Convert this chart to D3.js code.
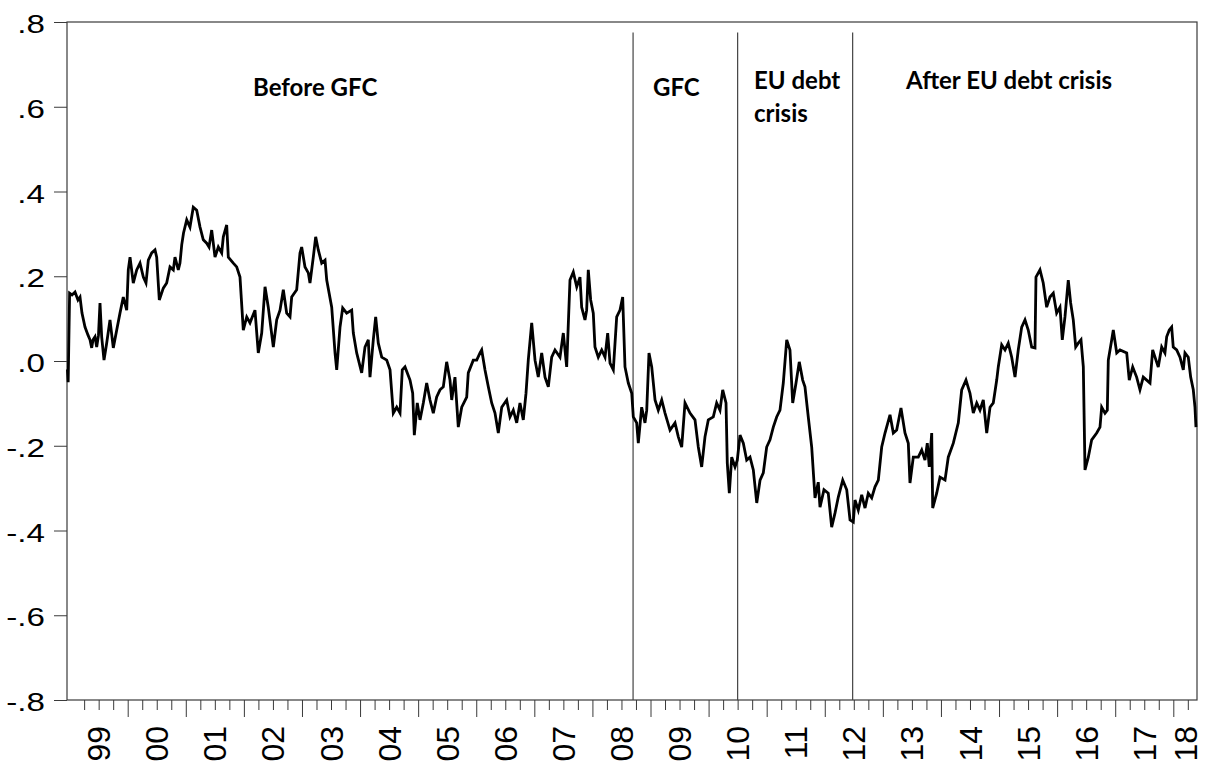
<!DOCTYPE html>
<html>
<head>
<meta charset="utf-8">
<script src="https://cdn.jsdelivr.net/npm/d3@7"></script>
<style>
  body { margin: 0; background: #fff; }
  svg { display: block; }
</style>
</head>
<body>
<div id="chart-container"></div>
<script>
// series, decimal year / value
const dates = [
  1998.962, 1998.975, 1999.000, 1999.041, 1999.093, 1999.144, 1999.179, 1999.213, 1999.265, 1999.317,
  1999.351, 1999.380, 1999.403, 1999.437, 1999.466, 1999.497, 1999.523, 1999.552, 1999.592, 1999.638,
  1999.695, 1999.752, 1999.811, 1999.867, 1999.924, 1999.983, 2000.010, 2000.040, 2000.096, 2000.155,
  2000.212, 2000.269, 2000.315, 2000.355, 2000.413, 2000.470, 2000.499, 2000.544, 2000.613, 2000.671,
  2000.728, 2000.785, 2000.814, 2000.871, 2000.900, 2000.930, 2000.961, 2001.016, 2001.072, 2001.129,
  2001.188, 2001.245, 2001.301, 2001.360, 2001.400, 2001.446, 2001.503, 2001.560, 2001.618, 2001.646,
  2001.704, 2001.732, 2001.818, 2001.876, 2001.933, 2001.990, 2002.049, 2002.105, 2002.191, 2002.248,
  2002.307, 2002.364, 2002.420, 2002.507, 2002.565, 2002.622, 2002.679, 2002.737, 2002.794, 2002.823,
  2002.909, 2002.966, 2002.995, 2003.052, 2003.109, 2003.138, 2003.195, 2003.236, 2003.281, 2003.340,
  2003.397, 2003.426, 2003.512, 2003.569, 2003.598, 2003.655, 2003.701, 2003.770, 2003.856, 2003.884,
  2003.942, 2004.028, 2004.085, 2004.142, 2004.171, 2004.228, 2004.269, 2004.314, 2004.373, 2004.459,
  2004.516, 2004.572, 2004.631, 2004.688, 2004.727, 2004.774, 2004.860, 2004.906, 2004.934, 2004.985,
  2005.032, 2005.089, 2005.147, 2005.204, 2005.261, 2005.319, 2005.376, 2005.433, 2005.491, 2005.548,
  2005.578, 2005.634, 2005.691, 2005.750, 2005.836, 2005.863, 2005.949, 2006.008, 2006.065, 2006.094,
  2006.151, 2006.208, 2006.266, 2006.323, 2006.380, 2006.439, 2006.524, 2006.581, 2006.638, 2006.697,
  2006.753, 2006.810, 2006.857, 2006.896, 2006.955, 2007.012, 2007.068, 2007.127, 2007.184, 2007.241,
  2007.299, 2007.356, 2007.442, 2007.499, 2007.557, 2007.614, 2007.671, 2007.730, 2007.786, 2007.815,
  2007.872, 2007.901, 2007.929, 2007.970, 2008.015, 2008.044, 2008.101, 2008.160, 2008.217, 2008.263,
  2008.303, 2008.360, 2008.418, 2008.475, 2008.521, 2008.561, 2008.618, 2008.677, 2008.704, 2008.762,
  2008.790, 2008.848, 2008.905, 2008.935, 2008.974, 2009.021, 2009.078, 2009.134, 2009.193, 2009.250,
  2009.336, 2009.422, 2009.479, 2009.537, 2009.594, 2009.680, 2009.766, 2009.823, 2009.881, 2009.938,
  2009.995, 2010.081, 2010.139, 2010.196, 2010.243, 2010.300, 2010.322, 2010.357, 2010.398, 2010.455,
  2010.494, 2010.541, 2010.598, 2010.656, 2010.713, 2010.770, 2010.829, 2010.886, 2010.942, 2011.000,
  2011.057, 2011.114, 2011.172, 2011.229, 2011.286, 2011.345, 2011.401, 2011.448, 2011.505, 2011.561,
  2011.620, 2011.659, 2011.716, 2011.775, 2011.832, 2011.888, 2011.918, 2011.986, 2012.060, 2012.119,
  2012.176, 2012.233, 2012.309, 2012.378, 2012.435, 2012.491, 2012.520, 2012.577, 2012.636, 2012.693,
  2012.749, 2012.808, 2012.865, 2012.922, 2012.980, 2013.037, 2013.123, 2013.180, 2013.238, 2013.312,
  2013.381, 2013.438, 2013.467, 2013.524, 2013.610, 2013.669, 2013.725, 2013.765, 2013.799, 2013.841,
  2013.858, 2013.927, 2013.984, 2014.070, 2014.126, 2014.213, 2014.299, 2014.357, 2014.431, 2014.500,
  2014.557, 2014.616, 2014.672, 2014.729, 2014.788, 2014.845, 2014.901, 2014.960, 2014.987, 2015.046,
  2015.103, 2015.159, 2015.218, 2015.275, 2015.331, 2015.390, 2015.447, 2015.503, 2015.562, 2015.619,
  2015.636, 2015.705, 2015.761, 2015.820, 2015.877, 2015.934, 2015.992, 2016.049, 2016.089, 2016.135,
  2016.192, 2016.233, 2016.278, 2016.320, 2016.364, 2016.411, 2016.451, 2016.480, 2016.537, 2016.595,
  2016.681, 2016.738, 2016.767, 2016.824, 2016.864, 2016.881, 2016.940, 2016.967, 2017.026, 2017.082,
  2017.198, 2017.242, 2017.301, 2017.369, 2017.426, 2017.483, 2017.542, 2017.599, 2017.645, 2017.702,
  2017.741, 2017.800, 2017.856, 2017.886, 2017.931, 2017.972, 2017.999, 2018.058, 2018.115, 2018.172,
  2018.201, 2018.258, 2018.299, 2018.344, 2018.373, 2018.390
];

const values = [
  -0.020, -0.050, 0.160, 0.156, 0.163, 0.144, 0.151, 0.113, 0.080, 0.061,
  0.050, 0.031, 0.050, 0.057, 0.033, 0.061, 0.137, 0.057, 0.002, 0.042,
  0.097, 0.031, 0.073, 0.113, 0.151, 0.120, 0.215, 0.245, 0.184, 0.215,
  0.231, 0.198, 0.184, 0.238, 0.255, 0.262, 0.245, 0.144, 0.172, 0.184,
  0.222, 0.215, 0.245, 0.215, 0.231, 0.274, 0.302, 0.333, 0.316, 0.363,
  0.356, 0.316, 0.286, 0.278, 0.269, 0.309, 0.245, 0.269, 0.255, 0.293,
  0.321, 0.245, 0.231, 0.222, 0.198, 0.073, 0.104, 0.090, 0.120, 0.019,
  0.066, 0.175, 0.127, 0.033, 0.097, 0.120, 0.168, 0.113, 0.104, 0.151,
  0.168, 0.255, 0.269, 0.222, 0.208, 0.184, 0.245, 0.293, 0.262, 0.231,
  0.238, 0.191, 0.127, 0.019, -0.021, 0.080, 0.125, 0.113, 0.120, 0.066,
  0.019, -0.028, 0.033, 0.050, -0.038, 0.050, 0.104, 0.042, 0.009, 0.002,
  -0.021, -0.123, -0.109, -0.123, -0.021, -0.014, -0.045, -0.076, -0.175, -0.099,
  -0.139, -0.099, -0.052, -0.092, -0.123, -0.085, -0.068, -0.061, -0.002, -0.045,
  -0.092, -0.038, -0.156, -0.109, -0.085, -0.028, 0.002, 0.002, 0.019, 0.026,
  -0.021, -0.061, -0.099, -0.123, -0.170, -0.109, -0.092, -0.132, -0.116, -0.146,
  -0.099, -0.139, -0.076, 0.002, 0.090, 0.002, -0.038, 0.019, -0.038, -0.061,
  0.009, 0.026, 0.009, 0.066, -0.014, 0.191, 0.210, 0.175, 0.198, 0.127,
  0.097, 0.120, 0.215, 0.144, 0.113, 0.033, 0.009, 0.026, 0.009, 0.066,
  -0.005, -0.021, 0.104, 0.120, 0.151, -0.014, -0.052, -0.076, -0.132, -0.146,
  -0.194, -0.109, -0.146, -0.116, 0.019, -0.014, -0.092, -0.116, -0.092, -0.123,
  -0.163, -0.146, -0.179, -0.203, -0.099, -0.123, -0.139, -0.203, -0.250, -0.179,
  -0.139, -0.132, -0.099, -0.116, -0.068, -0.099, -0.241, -0.312, -0.227, -0.250,
  -0.234, -0.175, -0.194, -0.234, -0.227, -0.257, -0.335, -0.281, -0.264, -0.203,
  -0.186, -0.156, -0.132, -0.116, -0.052, 0.050, 0.026, -0.099, -0.052, -0.002,
  -0.045, -0.061, -0.132, -0.203, -0.323, -0.286, -0.345, -0.304, -0.312, -0.392,
  -0.359, -0.321, -0.281, -0.304, -0.375, -0.380, -0.328, -0.352, -0.316, -0.347,
  -0.312, -0.323, -0.297, -0.281, -0.203, -0.170, -0.127, -0.170, -0.163, -0.111,
  -0.170, -0.194, -0.288, -0.227, -0.227, -0.210, -0.234, -0.194, -0.250, -0.170,
  -0.347, -0.312, -0.274, -0.281, -0.227, -0.194, -0.146, -0.068, -0.045, -0.076,
  -0.123, -0.099, -0.116, -0.092, -0.170, -0.109, -0.099, -0.045, -0.014, 0.038,
  0.026, 0.042, 0.009, -0.038, 0.026, 0.080, 0.097, 0.073, 0.033, 0.031,
  0.198, 0.215, 0.184, 0.127, 0.151, 0.160, 0.113, 0.127, 0.050, 0.104,
  0.191, 0.137, 0.097, 0.033, 0.042, 0.050, -0.014, -0.257, -0.227, -0.186,
  -0.170, -0.156, -0.109, -0.123, -0.116, 0.002, 0.050, 0.073, 0.019, 0.026,
  0.019, -0.045, -0.014, -0.038, -0.068, -0.038, -0.045, -0.052, 0.026, 0.002,
  -0.014, 0.033, 0.019, 0.057, 0.073, 0.080, 0.033, 0.026, 0.009, -0.021,
  0.019, 0.009, -0.038, -0.068, -0.109, -0.156
];

const yTicks = [0.8, 0.6, 0.4, 0.2, 0, -0.2, -0.4, -0.6, -0.8];
const yTickLabels = [".8", ".6", ".4", ".2", ".0", "-.2", "-.4", "-.6", "-.8"];

const years = d3.range(1999, 2019);
const yearLabels = ["99", "00", "01", "02", "03", "04", "05", "06", "07", "08",
  "09", "10", "11", "12", "13", "14", "15", "16", "17", "18"];

// period breaks (vertical lines)
const breakDates = [2008.70, 2010.50, 2012.48];

const periodLabels = [["Before GFC"], ["GFC"], ["EU debt", "crisis"], ["After EU debt crisis"]];
const periodDates = [2002.157, 2009.043, 2010.782, 2013.399];
const periodValues = [0.625, 0.625, 0.642, 0.642];

const w = 1213;
const h = 763;
const plotLeft = 67, plotRight = 1197, plotTop = 22, plotBottom = 700;
const xMin = 1998.955, xMax = 2018.408;

const xScale = d3.scaleLinear().domain([xMin, xMax]).range([plotLeft, plotRight]);
const yScale = d3.scaleLinear().domain([-0.8, 0.8]).range([plotBottom, plotTop]);

const svg = d3.select("#chart-container")
  .append("svg")
  .attr("width", w)
  .attr("height", h)
  .style("font-family", "'Liberation Sans', Arial, sans-serif");

const axisColor = "#3a3a3a";

// quarter ticks
const quarters = d3.range(1999.25, 2018.3, 0.25).filter((q) => Math.abs(q - Math.round(q)) > 0.01);
svg.append("g")
  .attr("transform", "translate(0," + plotBottom + ")")
  .call(d3.axisBottom(xScale).tickValues(quarters).tickSize(10).tickFormat(""))
  .call((g) => g.select(".domain").remove())
  .call((g) => g.selectAll("line").attr("stroke", axisColor));

// year ticks
svg.append("g")
  .attr("transform", "translate(0," + plotBottom + ")")
  .call(d3.axisBottom(xScale).tickValues(years.slice(1)).tickSize(17).tickFormat(""))
  .call((g) => g.select(".domain").remove())
  .call((g) => g.selectAll("line").attr("stroke", axisColor));

// year labels centred in visible part of each year
svg.append("g")
  .selectAll("text")
  .data(years)
  .join("text")
  .attr("transform", (d) => {
    const mid = (Math.max(d, xMin) + Math.min(d + 1, xMax)) / 2;
    return "translate(" + xScale(mid) + "," + 726 + ") rotate(-90)";
  })
  .attr("dy", "0.36em")
  .attr("text-anchor", "end")
  .attr("font-size", 32)
  .attr("fill", "#000")
  .text((d, i) => yearLabels[i]);

// y axis
svg.append("g")
  .attr("transform", "translate(" + plotLeft + ",0)")
  .call(d3.axisLeft(yScale).tickValues(yTicks).tickSize(13).tickFormat(""))
  .call((g) => g.select(".domain").remove())
  .call((g) => g.selectAll("line").attr("stroke", axisColor));

svg.append("g")
  .selectAll("text")
  .data(yTicks)
  .join("text")
  .attr("transform", (d) => "translate(45," + (yScale(d) + 11) + ") scale(1.3,1)")
  .attr("text-anchor", "end")
  .attr("font-size", 25.5)
  .attr("fill", "#000")
  .text((d, i) => yTickLabels[i]);

// frame
svg.append("rect")
  .attr("x", plotLeft)
  .attr("y", plotTop)
  .attr("width", plotRight - plotLeft)
  .attr("height", plotBottom - plotTop)
  .attr("fill", "none")
  .attr("stroke", axisColor)
  .attr("stroke-width", 1.2);

// period break lines
svg.append("g")
  .selectAll("line")
  .data(breakDates)
  .join("line")
  .attr("x1", (d) => xScale(d))
  .attr("x2", (d) => xScale(d))
  .attr("y1", yScale(0.775))
  .attr("y2", yScale(-0.8))
  .attr("stroke", "#444")
  .attr("stroke-width", 1.2);

// series
const line = d3.line()
  .x((d, i) => xScale(dates[i]))
  .y((d) => yScale(d));

svg.append("path")
  .datum(values)
  .attr("fill", "none")
  .attr("stroke", "#000")
  .attr("stroke-width", 2.8)
  .attr("stroke-linejoin", "miter")
  .attr("d", line);

// period annotations
const notes = svg.append("g")
  .style("font-family", "Lato, 'Open Sans', sans-serif")
  .attr("font-weight", "bold")
  .attr("font-size", 24);

periodLabels.forEach((lines, i) => {
  const t = notes.append("text")
    .attr("x", xScale(periodDates[i]))
    .attr("y", yScale(periodValues[i]))
    .attr("fill", "#000");
  lines.forEach((s, j) => {
    t.append("tspan")
      .attr("x", xScale(periodDates[i]))
      .attr("dy", j === 0 ? 0 : 33)
      .text(s);
  });
});
</script>
</body>
</html>
